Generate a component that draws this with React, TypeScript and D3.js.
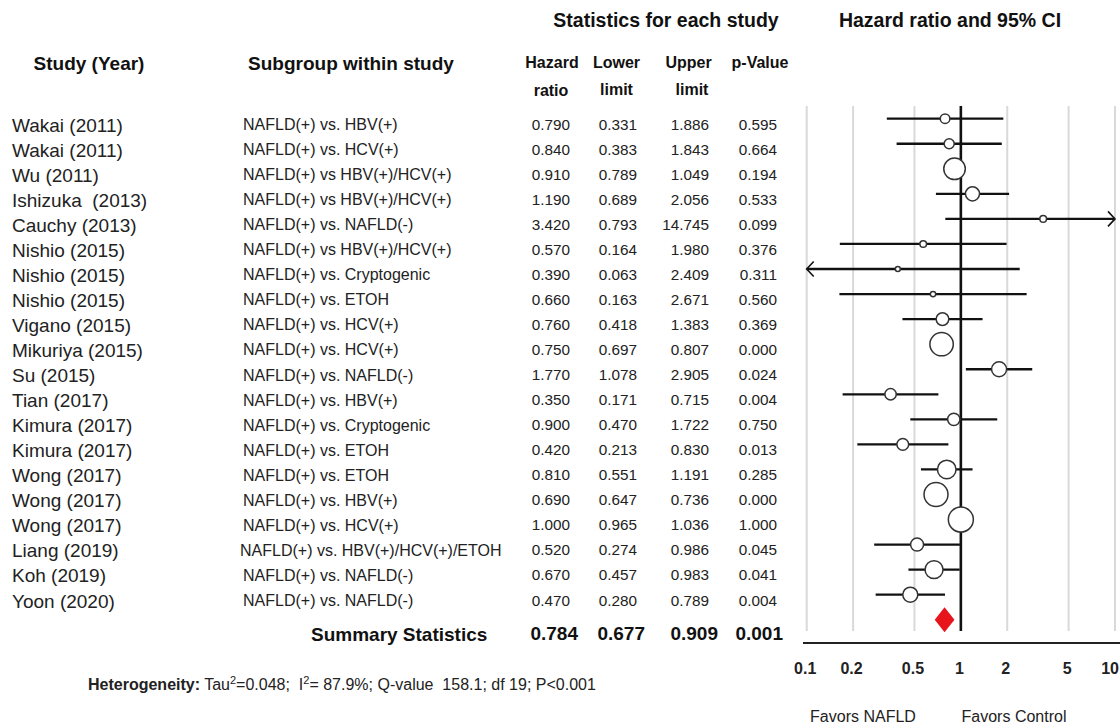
import React from 'react';
import * as d3 from 'd3';

// Forest plot: NAFLD-related HCC vs. other etiologies
const studies = [
  'Wakai (2011)', 'Wakai (2011)', 'Wu (2011)', 'Ishizuka  (2013)', 'Cauchy (2013)',
  'Nishio (2015)', 'Nishio (2015)', 'Nishio (2015)', 'Vigano (2015)', 'Mikuriya (2015)',
  'Su (2015)', 'Tian (2017)', 'Kimura (2017)', 'Kimura (2017)', 'Wong (2017)',
  'Wong (2017)', 'Wong (2017)', 'Liang (2019)', 'Koh (2019)', 'Yoon (2020)'
];
const subgroups = [
  'NAFLD(+) vs. HBV(+)', 'NAFLD(+) vs. HCV(+)', 'NAFLD(+) vs HBV(+)/HCV(+)', 'NAFLD(+) vs HBV(+)/HCV(+)',
  'NAFLD(+) vs. NAFLD(-)', 'NAFLD(+) vs HBV(+)/HCV(+)', 'NAFLD(+) vs. Cryptogenic', 'NAFLD(+) vs. ETOH',
  'NAFLD(+) vs. HCV(+)', 'NAFLD(+) vs. HCV(+)', 'NAFLD(+) vs. NAFLD(-)', 'NAFLD(+) vs. HBV(+)',
  'NAFLD(+) vs. Cryptogenic', 'NAFLD(+) vs. ETOH', 'NAFLD(+) vs. ETOH', 'NAFLD(+) vs. HBV(+)',
  'NAFLD(+) vs. HCV(+)', 'NAFLD(+) vs. HBV(+)/HCV(+)/ETOH', 'NAFLD(+) vs. NAFLD(-)', 'NAFLD(+) vs. NAFLD(-)'
];
const hazardRatios = [0.79, 0.84, 0.91, 1.19, 3.42, 0.57, 0.39, 0.66, 0.76, 0.75, 1.77, 0.35, 0.9, 0.42, 0.81, 0.69, 1.0, 0.52, 0.67, 0.47];
const lowerLimits = [0.331, 0.383, 0.789, 0.689, 0.793, 0.164, 0.063, 0.163, 0.418, 0.697, 1.078, 0.171, 0.47, 0.213, 0.551, 0.647, 0.965, 0.274, 0.457, 0.28];
const upperLimits = [1.886, 1.843, 1.049, 2.056, 14.745, 1.98, 2.409, 2.671, 1.383, 0.807, 2.905, 0.715, 1.722, 0.83, 1.191, 0.736, 1.036, 0.986, 0.983, 0.789];
const pValues = [0.595, 0.664, 0.194, 0.533, 0.099, 0.376, 0.311, 0.56, 0.369, 0.0, 0.024, 0.004, 0.75, 0.013, 0.285, 0.0, 1.0, 0.045, 0.041, 0.004];
// relative weights (%)
const weights = [2.0, 2.2, 10.1, 4.3, 0.96, 0.96, 0.54, 0.63, 3.5, 11.9, 4.9, 2.8, 3.3, 3.0, 7.5, 12.5, 13.6, 3.65, 7.0, 4.9];

const summaryValues = [0.784, 0.677, 0.909, 0.001];
const axisTicks = [0.1, 0.2, 0.5, 1, 2, 5, 10];

const FONT = '"Liberation Sans", Arial, sans-serif';
const fmt = d3.format('.3f');

const App = () => {
  const width = 1120;
  const height = 725;

  const x = d3.scaleLog().domain([0.1, 10]).range([806.7, 1115]);
  const rowY = d3.scaleLinear().domain([0, studies.length - 1]).range([125, 601]);
  const plotY = (i: number) => rowY(i) - 6.3;
  const r = d3.scaleSqrt().domain([0, d3.max(weights) as number]).range([0, 12.5]);

  const [xMin, xMax] = x.domain();
  const gridTop = 106;
  const gridBottom = 631;
  const axisY = 643;

  const valueCols = [hazardRatios, lowerLimits, upperLimits, pValues];
  const valueRight = [570, 637, 709, 777];
  const summaryRight = [578, 645, 718, 783];

  const sumY = plotY(studies.length);
  const diamond = `M${x(summaryValues[1])},${sumY} L${x(summaryValues[0])},${sumY - 12.5} L${x(summaryValues[2])},${sumY} L${x(summaryValues[0])},${sumY + 12.5} Z`;

  return (
    <svg
      width={width}
      height={height}
      style={{ position: 'absolute', left: 0, top: 0, background: '#fff', fontFamily: FONT }}
    >
      {/* headers */}
      <g fontWeight="bold" fill="#111" textAnchor="middle">
        <text x={666} y={27} fontSize={19.5}>Statistics for each study</text>
        <text x={950} y={27} fontSize={19.5}>Hazard ratio and 95% CI</text>
        <text x={89} y={70} fontSize={19}>Study (Year)</text>
        <text x={351} y={70} fontSize={19}>Subgroup within study</text>
        <text x={552} y={68} fontSize={16}>Hazard</text>
        <text x={551} y={96} fontSize={16}>ratio</text>
        <text x={616.5} y={68} fontSize={16}>Lower</text>
        <text x={616.5} y={95} fontSize={16}>limit</text>
        <text x={688.5} y={68} fontSize={16}>Upper</text>
        <text x={692} y={95} fontSize={16}>limit</text>
        <text x={760} y={68} fontSize={16}>p-Value</text>
      </g>

      {/* study rows */}
      <g fill="#222">
        {studies.map((s, i) => (
          <text key={'s' + i} x={12} y={rowY(i) + 6.5} fontSize={19} style={{ whiteSpace: 'pre' }}>{s}</text>
        ))}
        {subgroups.map((s, i) => (
          <text key={'g' + i} x={i === 17 ? 240 : 243} y={rowY(i) + 5} fontSize={16}>{s}</text>
        ))}
        {valueCols.map((col, c) =>
          col.map((v, i) => (
            <text key={`v${c}-${i}`} x={valueRight[c]} y={rowY(i) + 4.5} fontSize={15.3} textAnchor="end">{fmt(v)}</text>
          ))
        )}
      </g>

      {/* summary */}
      <g fontWeight="bold" fill="#111" fontSize={19}>
        <text x={311} y={641}>Summary Statistics</text>
        {summaryValues.map((v, c) => (
          <text key={'sum' + c} x={summaryRight[c]} y={640} textAnchor="end">{fmt(v)}</text>
        ))}
      </g>

      {/* heterogeneity */}
      <text x={88} y={690} fontSize={16} fill="#222" style={{ whiteSpace: 'pre' }}>
        <tspan fontWeight="bold">Heterogeneity:</tspan>
        <tspan> Tau</tspan>
        <tspan fontSize={11} dy={-6}>2</tspan>
        <tspan dy={6}>=0.048;  I</tspan>
        <tspan fontSize={11} dy={-6}>2</tspan>
        <tspan dy={6}>= 87.9%; Q-value  158.1; df 19; P&lt;0.001</tspan>
      </text>

      {/* grid */}
      <g>
        {axisTicks.filter(t => t !== 1).map(t => (
          <line key={'gr' + t} x1={x(t)} x2={x(t)} y1={gridTop} y2={gridBottom} stroke="#d9d9d9" strokeWidth={2} />
        ))}
      </g>

      {/* CI lines */}
      <g stroke="#111" strokeWidth={2.3} fill="none">
        {hazardRatios.map((_, i) => {
          const lo = Math.max(lowerLimits[i], xMin);
          const hi = Math.min(upperLimits[i], xMax);
          const y = plotY(i);
          return (
            <g key={'ci' + i}>
              <line x1={x(lo)} x2={x(hi)} y1={y} y2={y} />
              {lowerLimits[i] < xMin && (
                <path d={`M${x(xMin) + 7},${y - 7.5} L${x(xMin)},${y} L${x(xMin) + 7},${y + 7.5}`} strokeWidth={1.6} />
              )}
              {upperLimits[i] > xMax && (
                <path d={`M${x(xMax) - 7},${y - 7.5} L${x(xMax)},${y} L${x(xMax) - 7},${y + 7.5}`} strokeWidth={1.6} />
              )}
            </g>
          );
        })}
      </g>

      {/* null line */}
      <line x1={x(1)} x2={x(1)} y1={gridTop} y2={gridBottom} stroke="#111" strokeWidth={2.6} />

      {/* point estimates */}
      <g fill="#fff" stroke="#333" strokeWidth={1.5}>
        {hazardRatios.map((hr, i) => (
          <circle key={'pt' + i} cx={x(hr)} cy={plotY(i)} r={r(weights[i])} />
        ))}
      </g>

      {/* summary diamond */}
      <path d={diamond} fill="#e8141c" />

      {/* axis */}
      <line x1={803} x2={width} y1={axisY} y2={axisY} stroke="#222" strokeWidth={2} />
      <g fontWeight="bold" fontSize={16} fill="#222" textAnchor="middle">
        {axisTicks.map(t => {
          const last = t === xMax;
          return (
            <text key={'tk' + t} x={last ? width - 1 : x(t) - 1.5} y={674} textAnchor={last ? 'end' : 'middle'}>
              {d3.format('~g')(t)}
            </text>
          );
        })}
      </g>
      <g fontSize={16} fill="#222" textAnchor="middle" style={{ whiteSpace: 'pre' }}>
        <text x={863} y={722}>Favors  NAFLD</text>
        <text x={1014} y={722}>Favors  Control</text>
      </g>
    </svg>
  );
};

export default App;
